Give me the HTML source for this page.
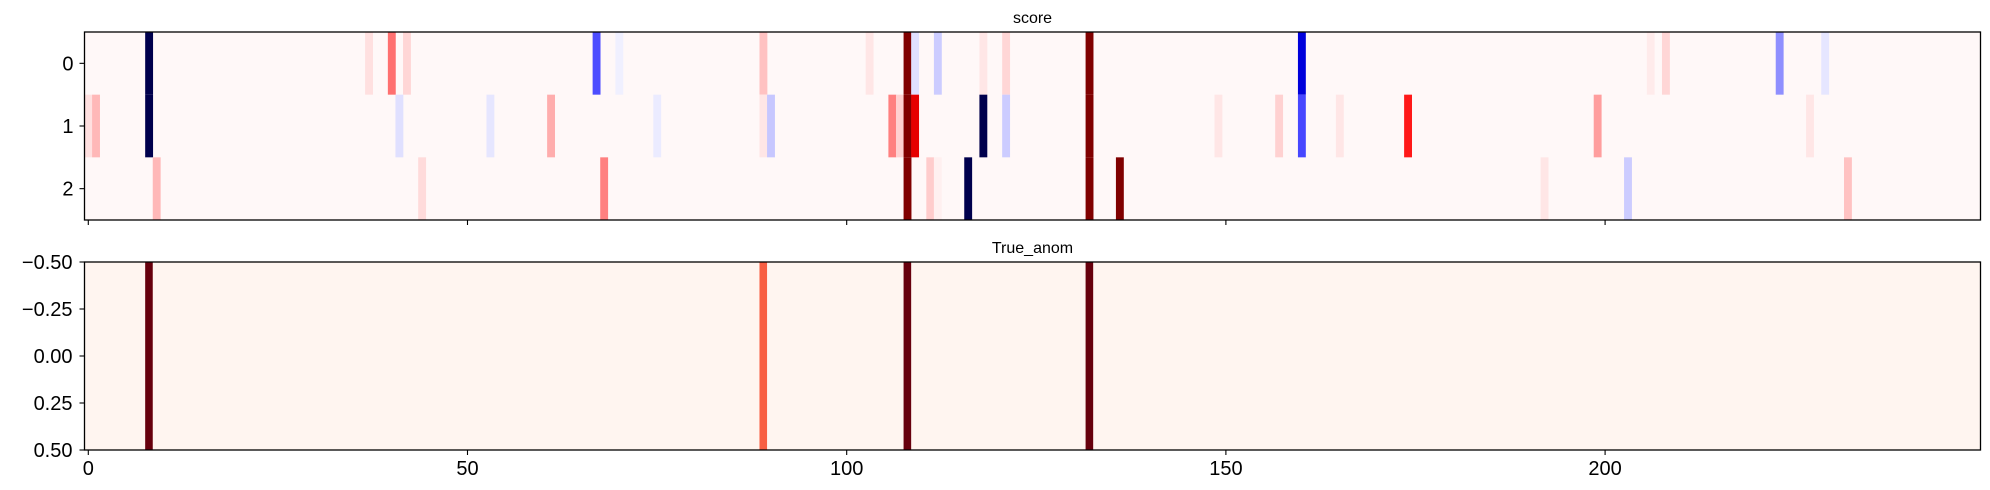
<!DOCTYPE html>
<html><head><meta charset="utf-8"><style>
html,body{margin:0;padding:0;background:#fff}
svg{display:block;font-family:"Liberation Sans","DejaVu Sans",sans-serif}
</style></head><body>
<svg id="chart" width="1990" height="490" viewBox="0 0 1990 490" xmlns="http://www.w3.org/2000/svg"></svg>
<script>
// ---- data ----
const nCols = 250;
const baseScore = 0.013;
const row0Cols = [8,37,40,42,67,70,89,103,108,109,112,118,121,132,160,206,208,223,229];
const row0Vals = [-1,0.06,0.28,0.08,-0.35,-0.03,0.12,0.05,1,-0.06,-0.1,0.05,0.08,1,-0.6,0.04,0.08,-0.22,-0.05];
const row1Cols = [0,1,8,41,53,61,75,89,90,106,107,108,109,118,121,132,149,157,160,165,174,199,227];
const row1Vals = [0.06,0.14,-1,-0.06,-0.05,0.16,-0.04,0.05,-0.11,0.25,0.09,1,0.6,-1,-0.1,1,0.05,0.09,-0.36,0.05,0.45,0.19,0.05];
const row2Cols = [9,44,68,108,111,112,116,132,136,192,203,232];
const row2Vals = [0.14,0.07,0.25,1,0.1,0.03,-1,1,1,0.05,-0.1,0.12];
const anomCols = [8,89,108,132];
const anomVals = [1,0.53,1,1];
const xTicks = [0,50,100,150,200];
const yTicksTop = [0,1,2];
const yTicksBottom = [-0.5,-0.25,0,0.25,0.5];
const yTickLabelsBottom = ["\u22120.50","\u22120.25","0.00","0.25","0.50"];

// ---- layout ----
const L = 84.5, R = 1980.5;
const T1 = 32, B1 = 220, T2 = 262, B2 = 450;
const cw = (R - L) / nCols;
const xScale = v => L + (v + 0.5) * cw;
const yTop = r => T1 + (r + 0.5) * (B1 - T1) / 3;
const yBot = v => T2 + (v + 0.5) * (B2 - T2);

function lerp(a,b,t){return a+(b-a)*t;}
function seismic(v){
  v = Math.max(-1, Math.min(1, v));
  const st = [[-1,[0,0,0.3]],[-0.5,[0,0,1]],[0,[1,1,1]],[0.5,[1,0,0]],[1,[0.5,0,0]]];
  for(let i=0;i<st.length-1;i++){
    if(v<=st[i+1][0]){
      const t=(v-st[i][0])/(st[i+1][0]-st[i][0]);
      const c=st[i][1].map((x,k)=>Math.round(255*lerp(x,st[i+1][1][k],t)));
      return `rgb(${c[0]},${c[1]},${c[2]})`;
    }
  }
  return 'rgb(128,0,0)';
}
function reds(v){
  const hex=['#fff5f0','#fee0d2','#fcbba1','#fc9272','#fb6a4a','#ef3b2c','#cb181d','#a50f15','#67000d'];
  const p=hex.map(h=>[1,3,5].map(i=>parseInt(h.substr(i,2),16)));
  v=Math.max(0,Math.min(1,v)); const f=v*8; const i=Math.min(7,Math.floor(f)); const t=f-i;
  const c=p[i].map((x,k)=>Math.round(lerp(x,p[i+1][k],t)));
  return `rgb(${c[0]},${c[1]},${c[2]})`;
}

const svg = document.getElementById('chart');
const NS = 'http://www.w3.org/2000/svg';
function mk(tag, attrs, parent){
  const e=document.createElementNS(NS,tag);
  for(const k in attrs) e.setAttribute(k,attrs[k]);
  (parent||svg).appendChild(e); return e;
}

// top heatmap
const gTop = mk('g',{});


mk('rect',{x:L,y:T1,width:R-L,height:B1-T1,fill:seismic(baseScore)},gTop);
const rows=[[row0Cols,row0Vals],[row1Cols,row1Vals],[row2Cols,row2Vals]];
rows.forEach((rw,r)=>{
  rw[0].forEach((c,i)=>{
    const e=mk('rect',{x:xScale(c)-cw/2,y:yTop(r)-(B1-T1)/6,width:cw+0.3,height:(B1-T1)/3,fill:seismic(rw[1][i])},gTop);
    
    
  });
});
const f1=mk('rect',{x:L,y:T1,width:R-L,height:B1-T1,fill:'none',stroke:'#000','stroke-width':1.3});



// bottom heatmap
const gBot = mk('g',{});


mk('rect',{x:L,y:T2,width:R-L,height:B2-T2,fill:reds(0)},gBot);
anomCols.forEach((c,i)=>{
  const e=mk('rect',{x:xScale(c)-cw/2,y:T2,width:cw,height:B2-T2,fill:reds(anomVals[i])},gBot);
  
  
});
const f2=mk('rect',{x:L,y:T2,width:R-L,height:B2-T2,fill:'none',stroke:'#000','stroke-width':1.3});



// ticks
xTicks.forEach(t=>{
  const x=xScale(t);
  mk('line',{x1:x,x2:x,y1:B1,y2:B1+5,stroke:'#000','stroke-width':1.1});
  mk('line',{x1:x,x2:x,y1:B2,y2:B2+5,stroke:'#000','stroke-width':1.1});
  const tx=mk('text',{x:x,y:B2+25,'text-anchor':'middle','font-size':20,fill:'#000'});
  tx.textContent=String(t);
  
  
});
yTicksTop.forEach(t=>{
  const y=yTop(t);
  mk('line',{x1:L-5,x2:L,y1:y,y2:y,stroke:'#000','stroke-width':1.1});
  const tx=mk('text',{x:L-11,y:y+7,'text-anchor':'end','font-size':20,fill:'#000'});
  tx.textContent=String(t);
  
  
});
yTicksBottom.forEach((t,i)=>{
  const y=yBot(t);
  mk('line',{x1:L-5,x2:L,y1:y,y2:y,stroke:'#000','stroke-width':1.1});
  const tx=mk('text',{x:L-12,y:y+7,'text-anchor':'end','font-size':20,fill:'#000'});
  tx.textContent=yTickLabelsBottom[i];
  
  
});

// titles
const t1=mk('text',{x:(L+R)/2,y:23,'text-anchor':'middle','font-size':16,fill:'#000'});
t1.textContent='score';


const t2=mk('text',{x:(L+R)/2,y:253,'text-anchor':'middle','font-size':16,fill:'#000'});
t2.textContent='True_anom';


</script>
</body></html>
